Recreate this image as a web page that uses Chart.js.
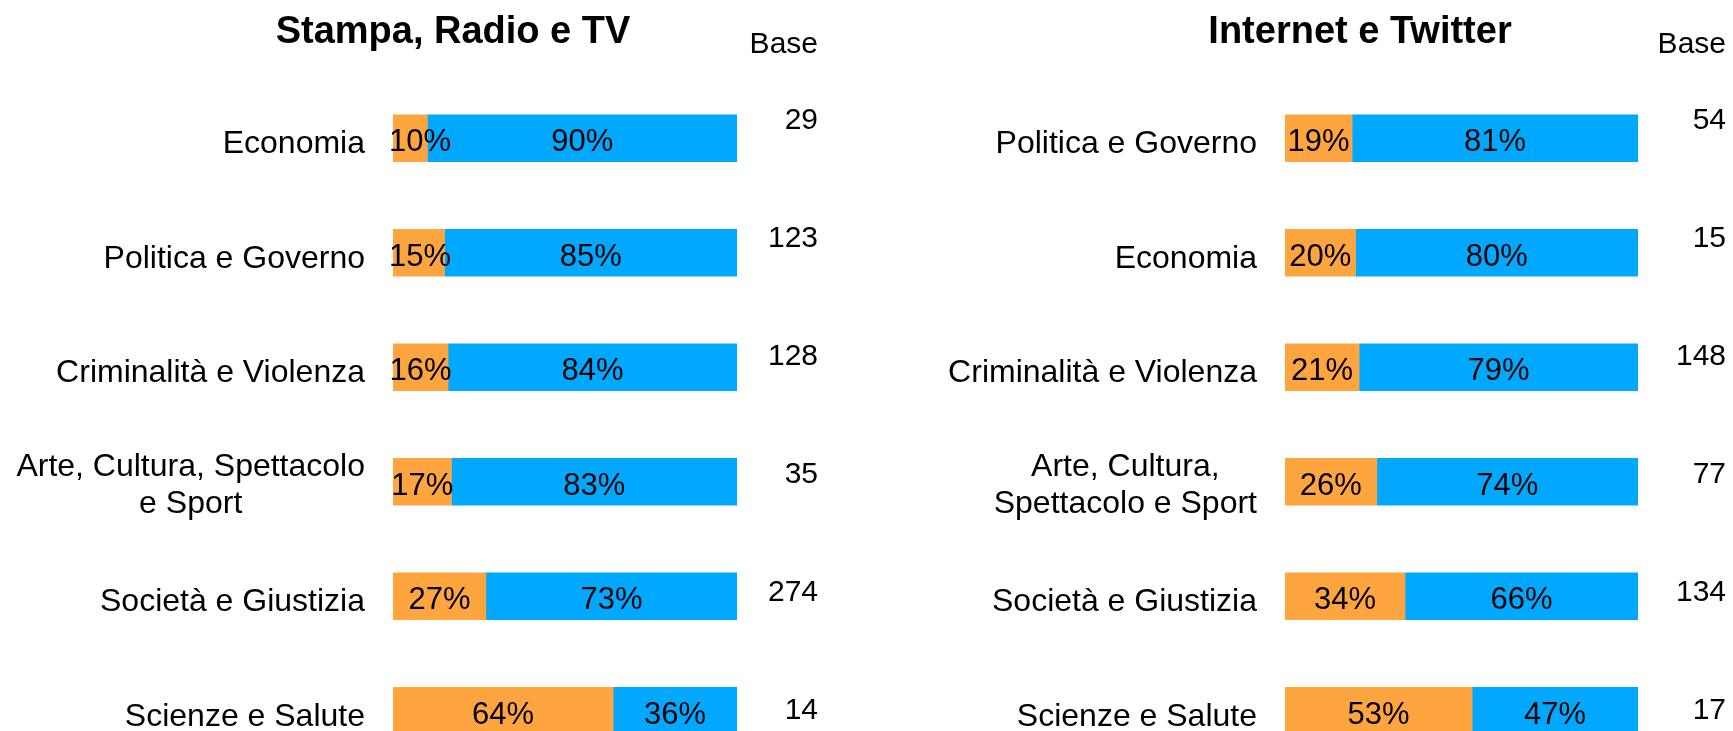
<!DOCTYPE html>
<html>
<head>
<meta charset="utf-8">
<script src="https://cdn.jsdelivr.net/npm/chart.js@4.4.1/dist/chart.umd.min.js"></script>
<style>
  html, body { margin: 0; padding: 0; background: #fff; overflow: hidden; }
  .panel { position: absolute; top: 0; }
</style>
</head>
<body>
<div class="panel" style="left:0"><canvas id="chartLeft" width="866" height="780"></canvas></div>
<div class="panel" style="left:866px"><canvas id="chartRight" width="867" height="780"></canvas></div>
<script>
// ---- data ----
const leftCats = ['Economia', 'Politica e Governo', 'Criminalità e Violenza',
   ['Arte, Cultura, Spettacolo', 'e Sport'], 'Società e Giustizia', 'Scienze e Salute'];
const leftLow = [10, 15, 16, 17, 27, 64];
const leftHigh = [90, 85, 84, 83, 73, 36];
const leftBase = [29, 123, 128, 35, 274, 14];

const rightCats = ['Politica e Governo', 'Economia', 'Criminalità e Violenza',
   ['Arte, Cultura,', 'Spettacolo e Sport'], 'Società e Giustizia', 'Scienze e Salute'];
const rightLow = [19, 20, 21, 26, 34, 53];
const rightHigh = [81, 80, 79, 74, 66, 47];
const rightBase = [54, 15, 148, 77, 134, 17];

const ORANGE = '#ffa540';
const BLUE = '#00a9ff';
const FONT = '"Liberation Sans", Arial, sans-serif';

// draws title, base column, category labels and % labels
const panelText = {
   id: 'panelText',
   afterDatasetsDraw(chart, args, opts) {
      const ctx = chart.ctx;
      const area = chart.chartArea;
      const yScale = chart.scales.y;
      ctx.save();
      ctx.fillStyle = '#000';

      // title
      ctx.font = 'bold 38px ' + FONT;
      ctx.textAlign = 'center';
      ctx.textBaseline = 'alphabetic';
      ctx.fillText(opts.title, opts.titleX, 43);

      // base header
      ctx.font = '30px ' + FONT;
      ctx.textAlign = 'right';
      ctx.fillText('Base', opts.baseX, 53);

      chart.data.labels.forEach((lab, i) => {
         const yc = yScale.getPixelForValue(i);

         // base number (its own column spacing, a bit wider than the bars)
         ctx.font = '30px ' + FONT;
         ctx.textAlign = 'right';
         ctx.fillText(String(opts.base[i]), opts.baseX, 118 + i * 118 + 10.7);

         // category label (lines centred, block right-aligned)
         ctx.font = '32px ' + FONT;
         const lines = Array.isArray(lab) ? lab : [lab];
         const maxW = Math.max(...lines.map(l => ctx.measureText(l).width));
         const cx = area.left - 28 - maxW / 2;
         ctx.textAlign = 'center';
         lines.forEach((l, k) => {
            const off = (k - (lines.length - 1) / 2) * 37;
            const adj = lines.length > 1 ? -2 : 0;
            ctx.fillText(l, cx, yc + 15 + off + adj);
         });
      });

      // percentage labels
      ctx.font = '31px ' + FONT;
      ctx.textAlign = 'center';
      chart.data.datasets.forEach((ds, di) => {
         const meta = chart.getDatasetMeta(di);
         meta.data.forEach((bar, i) => {
            const txt = ds.data[i] + '%';
            const w = ctx.measureText(txt).width;
            let x = (bar.x + bar.base) / 2;
            x = Math.max(x, area.left + w / 2 - 4);
            ctx.fillText(txt, x, bar.y + 13);
         });
      });
      ctx.restore();
   }
};

function makeChart(id, cats, low, high, base, title, titleX, baseX, padL, padR) {
   return new Chart(document.getElementById(id), {
      type: 'bar',
      data: {
         labels: cats,
         datasets: [
            { data: low, backgroundColor: ORANGE, barThickness: 47 },
            { data: high, backgroundColor: BLUE, barThickness: 47 }
         ]
      },
      options: {
         indexAxis: 'y',
         responsive: false,
         animation: false,
         layout: { padding: { left: padL, right: padR, top: 81, bottom: 12 } },
         scales: {
            x: { stacked: true, min: 0, max: 100, display: false },
            y: { stacked: true, display: false }
         },
         plugins: {
            legend: { display: false },
            tooltip: { enabled: false },
            panelText: { title: title, titleX: titleX, baseX: baseX, base: base }
         }
      },
      plugins: [panelText]
   });
}

makeChart('chartLeft', leftCats, leftLow, leftHigh, leftBase,
   'Stampa, Radio e TV', 453, 818, 393, 129);
makeChart('chartRight', rightCats, rightLow, rightHigh, rightBase,
   'Internet e Twitter', 494, 860, 419, 95);
</script>
</body>
</html>
